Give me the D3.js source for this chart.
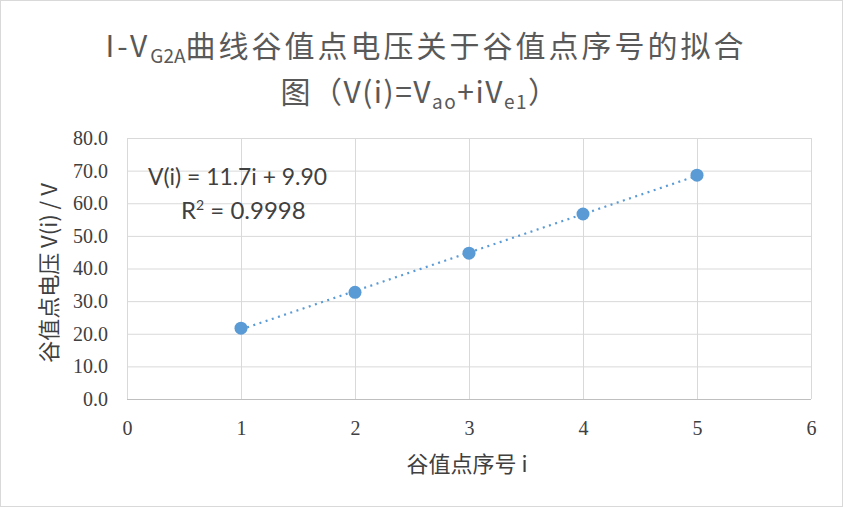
<!DOCTYPE html>
<html><head><meta charset="utf-8">
<script src="https://cdn.jsdelivr.net/npm/d3@7"></script>
<style>body{margin:0;background:#fff}svg{display:block}</style>
</head><body>
<script>
const indices = [1, 2, 3, 4, 5];
const voltages = [21.7, 32.7, 44.7, 56.7, 68.6];
const xTicks = [0, 1, 2, 3, 4, 5, 6];
const yTicks = [0, 10, 20, 30, 40, 50, 60, 70, 80];
const equationText = "V(i) = 11.7i + 9.90";
const r2Text = "0.9998";

const W = 843, H = 507;
const svg = d3.select("body").append("svg").attr("width", W).attr("height", H);
svg.append("rect").attr("x", 0.5).attr("y", 0.5).attr("width", W - 1).attr("height", H - 1)
  .attr("fill", "#fff").attr("stroke", "#d9d9d9");

const x = d3.scaleLinear().domain([0, 6]).range([127, 811]);
const y = d3.scaleLinear().domain([0, 80]).range([399, 138]);

// gridlines
const g = svg.append("g");
g.selectAll(".vg").data(xTicks).join("line")
  .attr("x1", d => x(d) + 0.5).attr("x2", d => x(d) + 0.5)
  .attr("y1", y(80)).attr("y2", y(0)).attr("stroke", "#d9d9d9").attr("stroke-width", 1);
g.selectAll(".hg").data(yTicks).join("line")
  .attr("y1", d => y(d) + 0.5).attr("y2", d => y(d) + 0.5)
  .attr("x1", x(0)).attr("x2", x(6)).attr("stroke", d => d === 0 ? "#bfbfbf" : "#d9d9d9").attr("stroke-width", 1);

// axes (labels only)
const xAxis = svg.append("g").attr("transform", `translate(0,${y(0)})`)
  .call(d3.axisBottom(x).tickValues(xTicks).tickSize(0).tickPadding(22).tickFormat(d3.format("d")));
xAxis.select(".domain").remove();
xAxis.selectAll("text").attr("font-family", "Liberation Serif, serif").attr("font-size", 20).attr("fill", "#404040");

const yAxis = svg.append("g").attr("transform", `translate(${x(0)},0)`)
  .call(d3.axisLeft(y).tickValues(yTicks).tickSize(0).tickPadding(19).tickFormat(d3.format(".1f")));
yAxis.select(".domain").remove();
yAxis.selectAll("text").attr("font-family", "Liberation Serif, serif").attr("font-size", 20).attr("fill", "#404040");

// trendline via least squares
const mx = d3.mean(indices), my = d3.mean(voltages);
const slope = d3.sum(indices.map((v, i) => (v - mx) * (voltages[i] - my))) / d3.sum(indices.map(v => (v - mx) ** 2));
const icpt = my - slope * mx;
const x0 = d3.min(indices), x1 = d3.max(indices);
svg.append("line")
  .attr("x1", x(x0)).attr("y1", y(slope * x0 + icpt))
  .attr("x2", x(x1)).attr("y2", y(slope * x1 + icpt))
  .attr("stroke", "#5b9bd5").attr("stroke-width", 2.2).attr("stroke-dasharray", "2 4.5").attr("stroke-linecap", "butt");

// points
svg.selectAll(".pt").data(indices).join("circle")
  .attr("cx", d => x(d)).attr("cy", (d, i) => y(voltages[i])).attr("r", 6.5).attr("fill", "#5b9bd5");

// equation
const eq = svg.append("g").attr("font-family", "Lato, sans-serif").attr("font-size", 24).attr("fill", "#404040");
eq.append("text").attr("x", 148).attr("y", 185).attr("textLength", 179).attr("lengthAdjust", "spacingAndGlyphs").text(equationText);
const r2 = eq.append("text").attr("x", 181).attr("y", 219);
r2.append("tspan").text("R");
r2.append("tspan").attr("font-size", 14).attr("dy", -9).text("2");
r2.append("tspan").attr("dy", 9).text(" = " + r2Text);

// title
const title = svg.append("g").attr("font-family", "Noto Sans CJK SC, sans-serif").attr("fill", "#595959").attr("text-anchor", "middle");
const t1 = title.append("text").attr("x", 426).attr("y", 57).attr("font-size", 30).attr("letter-spacing", 3);
t1.append("tspan").text("I-V");
t1.append("tspan").attr("font-size", 19).attr("dy", 6).attr("letter-spacing", 0).text("G2A");
t1.append("tspan").attr("dy", -6).text("曲线谷值点电压关于谷值点序号的拟合");
const t2 = title.append("text").attr("x", 420).attr("y", 103).attr("font-size", 30).attr("letter-spacing", 1.5);
t2.append("tspan").text("图（V(i)=V");
t2.append("tspan").attr("font-size", 19).attr("dy", 6).text("ao");
t2.append("tspan").attr("dy", -6).text("+iV");
t2.append("tspan").attr("font-size", 19).attr("dy", 6).text("e1");
t2.append("tspan").attr("dy", -6).text("）");

// axis titles
svg.append("text").attr("x", 467).attr("y", 472).attr("text-anchor", "middle")
  .attr("font-family", "Noto Sans CJK SC, sans-serif").attr("font-size", 22).attr("fill", "#404040").text("谷值点序号 i");
svg.append("text").attr("transform", "translate(57,273) rotate(-90)").attr("text-anchor", "middle")
  .attr("font-family", "Noto Sans CJK SC, sans-serif").attr("font-size", 22).attr("fill", "#404040").text("谷值点电压 V(i) / V");
</script>
</body></html>
